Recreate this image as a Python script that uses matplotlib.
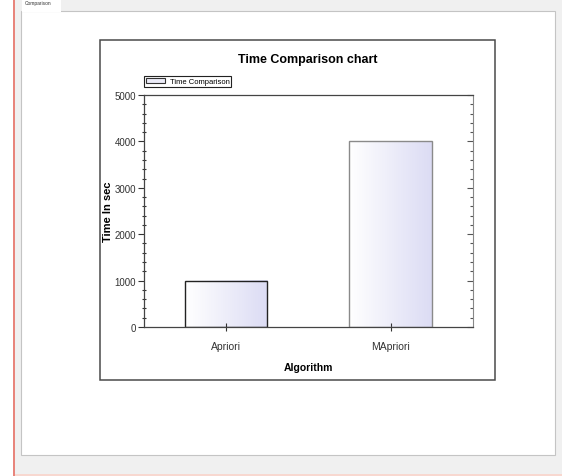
import numpy as np
import matplotlib.pyplot as plt
from matplotlib.patches import Rectangle
from matplotlib.ticker import MultipleLocator

W, H = 562, 477

algorithms = ["Apriori", "MApriori"]
times = [1000, 4000]
yticks = [0, 1000, 2000, 3000, 4000, 5000]

NARROW = ["Liberation Sans Narrow", "Liberation Sans", "DejaVu Sans"]


def box(fig, x0, y0, x1, y1, **kw):
    # rectangle given in pixel coords, origin top-left
    r = Rectangle((x0 / W, 1 - y1 / H), (x1 - x0) / W, (y1 - y0) / H,
                  transform=fig.transFigure, **kw)
    fig.add_artist(r)
    return r


fig = plt.figure(figsize=(W / 100, H / 100), dpi=100)
fig.patch.set_facecolor("white")

# window background, tab panel and its border
box(fig, 15, 0, W, H, facecolor="#f0f0f0", edgecolor="none", zorder=0)
box(fig, 12.5, 0, 15, H, facecolor="#e8857c", edgecolor="none", zorder=0)
box(fig, 15, 474.5, W, H, facecolor="#f8d8d0", edgecolor="none", zorder=0)
box(fig, 21, 12, 555, 456, facecolor="white", edgecolor="#c4c4c4", lw=0.8, zorder=0)
box(fig, 22, -2, 61, 12.5, facecolor="white", edgecolor="none", zorder=0)
fig.text(25 / W, 1 - 4 / H, "Comparison", fontsize=3.5, color="#333333",
         ha="left", va="center", family=NARROW)

# chart frame
box(fig, 99.5, 41, 495, 381, facecolor="white", edgecolor="#4a4a4a", lw=1.1, zorder=0)

ax = fig.add_axes([143.5 / W, 1 - 328 / H, (473 - 143.5) / W, 232 / H])
ax.set_facecolor("white")

x = np.arange(len(algorithms))
width = 0.5
grad = np.linspace(0, 1, 64).reshape(1, -1)
cmap = plt.matplotlib.colors.LinearSegmentedColormap.from_list(
    "fill", ["#ffffff", "#dcdcf4"])
for xi, t in zip(x, times):
    ax.imshow(grad, cmap=cmap, aspect="auto", zorder=1,
              extent=[xi - width / 2, xi + width / 2, 0, t])
bars = ax.bar(x, times, width=width, facecolor="none",
              edgecolor=["#222222", "#8a8a8a"], linewidth=1.0, zorder=2)

ax.set_xlim(-0.5, 1.5)
ax.set_ylim(0, 5000)
ax.set_xticks(x)
ax.set_xticklabels(algorithms, family=NARROW, fontsize=7.5)
ax.set_yticks(yticks)
ax.set_yticklabels([str(v) for v in yticks], family=NARROW, fontsize=7)
ax.yaxis.set_minor_locator(MultipleLocator(200))

ax.tick_params(axis="y", which="major", direction="out", length=4, width=0.8,
               pad=1.5, colors="#333333")
ax.tick_params(axis="y", which="minor", direction="inout", length=3, width=0.8,
               color="#333333")
ax.tick_params(axis="x", direction="inout", length=6, width=0.8, pad=7,
               colors="#333333")

# right axis: inside ticks only
sec = ax.secondary_yaxis("right")
sec.set_yticks(yticks)
sec.yaxis.set_minor_locator(MultipleLocator(200))
sec.tick_params(which="major", direction="in", length=4, width=0.8,
                labelright=False, color="#555555")
sec.tick_params(which="minor", direction="in", length=2.5, width=0.8,
                color="#555555")
sec.spines["right"].set_color("#888888")

for side in ["left", "bottom", "top"]:
    ax.spines[side].set_color("#444444")
    ax.spines[side].set_linewidth(0.9)
ax.spines["right"].set_visible(False)

ax.set_title("Time Comparison chart", fontsize=9, fontweight="bold",
             family=NARROW, pad=24)
ax.set_xlabel("Algorithm", fontsize=7.5, fontweight="bold", family=NARROW,
              labelpad=8)
ax.set_ylabel("Time In sec", fontsize=8, fontweight="bold",
              family=["Liberation Sans", "DejaVu Sans"], va="center")
ax.yaxis.set_label_coords((108 - 143.5) / (473 - 143.5), 0.5)

leg = fig.legend([Rectangle((0, 0), 1, 1, facecolor="#ececf8",
                            edgecolor="#333333", lw=0.8)],
                 ["Time Comparison"], loc="lower left",
                 bbox_to_anchor=(144 / W, 1 - 87.5 / H),
                 prop={"family": NARROW, "size": 5.5},
                 fancybox=False, framealpha=1, edgecolor="#222222",
                 borderpad=0.2, handlelength=2.6, handleheight=0.7,
                 handletextpad=0.6, borderaxespad=0)
leg.get_frame().set_linewidth(0.8)

fig.savefig("out.png", dpi=100)
